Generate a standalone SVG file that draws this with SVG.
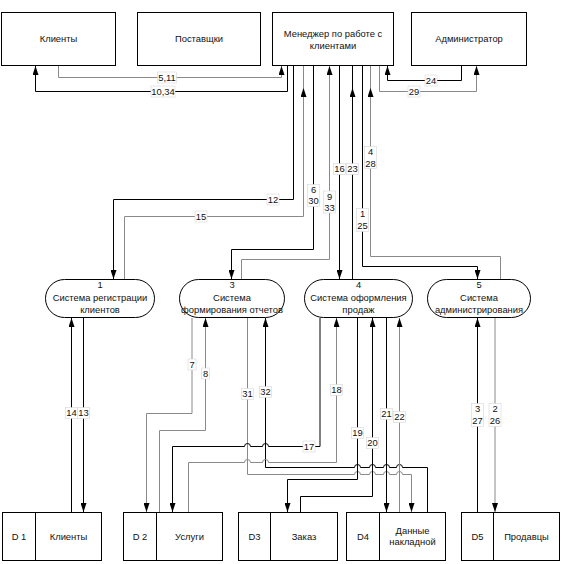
<svg xmlns="http://www.w3.org/2000/svg" width="562" height="564" viewBox="0 0 562 564">
<style>
.box{fill:#fff;stroke:#000;stroke-width:1}
.k{fill:none;stroke:#000;stroke-width:1}
.g{fill:none;stroke:#8a8a8a;stroke-width:1}
.ar{marker-end:url(#a)}
text{font-family:"Liberation Sans",Arial,sans-serif;font-size:9.4px;fill:#111;text-anchor:middle}
.lb{fill:#fff;stroke:#d6d6d6;stroke-width:0.6}
</style>
<defs>
<marker id="a" markerUnits="userSpaceOnUse" markerWidth="9" markerHeight="6" viewBox="0 0 9 6" refX="9" refY="3" orient="auto">
<path d="M0,0 L9,3 L0,6 z" fill="#000"/>
</marker>
</defs>
<rect width="562" height="564" fill="#fff"/>

<g id="connectors">
<path class="g ar" d="M58.5,65.5 V77.5 H281.5 V66"/>
<path class="k ar" d="M287.5,65.5 V91.5 H35.5 V66"/>
<path class="k ar" d="M461.5,65.5 V80.5 H387.5 V66"/>
<path class="g ar" d="M379.5,65.5 V91.5 H476.5 V66"/>
<path class="k ar" d="M293.5,65.5 V199.5 H113.5 V279"/>
<path class="g ar" d="M124.5,279 V216.5 H303.5 V88"/>
<path class="g" d="M303.5,88 V65.5"/>
<path class="k ar" d="M313.5,65.5 V249.5 H231.5 V279"/>
<path class="g ar" d="M241.5,279 V259.5 H329.5 V66"/>
<path class="k ar" d="M339.5,65.5 V279"/>
<path class="k ar" d="M352.5,279 V88"/>
<path class="k" d="M352.5,88 V65.5"/>
<path class="k ar" d="M362.5,65.5 V266.5 H477.5 V279"/>
<path class="g ar" d="M500.5,279 V256.5 H370.5 V88"/>
<path class="g" d="M370.5,88 V65.5"/>

<path class="k ar" d="M71.5,512 V318"/>
<path class="k ar" d="M83.5,318 V512"/>
<path class="g ar" d="M192,318 V413.5 H146.5 V512"/>
<path class="g ar" d="M159.5,512 V430.5 H205.5 V318"/>
<path class="g ar" d="M247.5,318 V474.5 H354.5 a3,3 0 0 1 6,0 H369.5 a3,3 0 0 1 6,0 H383.5 a3,3 0 0 1 6,0 H396.5 a3,3 0 0 1 6,0 H411.5 V512"/>
<path class="k ar" d="M427.5,512 V467.5 H402.5 a3,3 0 0 0 -6,0 H389.5 a3,3 0 0 0 -6,0 H375.5 a3,3 0 0 0 -6,0 H360.5 a3,3 0 0 0 -6,0 H265.5 V318"/>
<path class="k ar" d="M320,318 V446.5 H268.5 a3,3 0 0 0 -6,0 H250.5 a3,3 0 0 0 -6,0 H172.5 V512"/>
<path class="g ar" d="M188.5,512 V462.5 H244.5 a3,3 0 0 1 6,0 H262.5 a3,3 0 0 1 6,0 H336.5 V318"/>
<path class="k ar" d="M357.5,318 V479.5 H287.5 V512"/>
<path class="k ar" d="M300.5,512 V496.5 H372.5 V318"/>
<path class="k ar" d="M386.5,318 V512"/>
<path class="g ar" d="M399.5,512 V318"/>
<path class="k ar" d="M477.5,512 V318"/>
<path class="g ar" d="M495,318 V512"/>

<rect class="lb" x="157.5" y="72" width="19" height="11"/><text x="167" y="80.9">5,11</text>
<rect class="lb" x="151" y="86" width="24" height="11"/><text x="163" y="94.9">10,34</text>
<rect class="lb" x="425" y="75" width="12" height="11"/><text x="431" y="83.9">24</text>
<rect class="lb" x="408" y="86" width="12" height="11"/><text x="414" y="94.9">29</text>
<rect class="lb" x="267" y="194" width="12" height="11"/><text x="273" y="202.9">12</text>
<rect class="lb" x="195" y="211" width="12" height="11"/><text x="201" y="219.9">15</text>
<rect class="lb" x="307.5" y="184.5" width="12" height="22"/><text x="313.5" y="193.4">6</text><text x="313.5" y="204.4">30</text>
<rect class="lb" x="323.5" y="191" width="12" height="22"/><text x="329.5" y="200">9</text><text x="329.5" y="211">33</text>
<rect class="lb" x="333.5" y="163.5" width="12" height="11"/><text x="339.5" y="172.4">16</text>
<rect class="lb" x="346.5" y="163.5" width="12" height="11"/><text x="352.5" y="172.4">23</text>
<rect class="lb" x="356.5" y="208.5" width="12" height="23"/><text x="362.5" y="217.4">1</text><text x="362.5" y="229.4">25</text>
<rect class="lb" x="364.5" y="146.5" width="12" height="22"/><text x="370.5" y="155.4">4</text><text x="370.5" y="166.9">28</text>

<rect class="lb" x="65.5" y="407.5" width="12" height="11"/><text x="71.5" y="416.4">14</text>
<rect class="lb" x="77.5" y="407.5" width="12" height="11"/><text x="83.5" y="416.4">13</text>
<rect class="lb" x="188" y="359" width="8" height="11"/><text x="192" y="367.9">7</text>
<rect class="lb" x="201.5" y="368" width="8" height="11"/><text x="205.5" y="376.9">8</text>
<rect class="lb" x="241.5" y="388.5" width="12" height="11"/><text x="247.5" y="397.4">31</text>
<rect class="lb" x="259.5" y="386.5" width="12" height="11"/><text x="265.5" y="395.4">32</text>
<rect class="lb" x="330.5" y="384.5" width="12" height="11"/><text x="336.5" y="393.4">18</text>
<rect class="lb" x="303" y="441" width="12" height="11"/><text x="309" y="449.9">17</text>
<rect class="lb" x="351.5" y="427.5" width="12" height="11"/><text x="357.5" y="436.4">19</text>
<rect class="lb" x="366.5" y="437.5" width="12" height="11"/><text x="372.5" y="446.4">20</text>
<rect class="lb" x="380.5" y="408.5" width="12" height="11"/><text x="386.5" y="417.4">21</text>
<rect class="lb" x="393.5" y="411.5" width="12" height="11"/><text x="399.5" y="420.4">22</text>
<rect class="lb" x="471.5" y="403.5" width="12" height="23"/><text x="477.5" y="412.4">3</text><text x="477.5" y="424.4">27</text>
<rect class="lb" x="489" y="403.5" width="12" height="23"/><text x="495" y="412.4">2</text><text x="495" y="424.4">26</text>
</g>

<g id="ext-clients"><rect class="box" x="1.5" y="12.5" width="114" height="53"/><text x="58.5" y="42.4">Клиенты</text></g>
<g id="ext-suppliers"><rect class="box" x="137.5" y="12.5" width="123" height="53"/><text x="199" y="42.4">Поставщки</text></g>
<g id="ext-manager"><rect class="box" x="272.5" y="12.5" width="121" height="53"/><text x="333" y="36.9">Менеджер по работе с</text><text x="333" y="48.9">клиентами</text></g>
<g id="ext-admin"><rect class="box" x="411.5" y="12.5" width="115" height="53"/><text x="469" y="42.4">Администратор</text></g>

<g id="p1"><rect class="box" x="45.5" y="279.5" width="109" height="38" rx="19" ry="19"/><text x="100" y="288.4">1</text><text x="100" y="301.4">Система регистрации</text><text x="100" y="313.4">клиентов</text></g>
<g id="p3"><rect class="box" x="179.5" y="279.5" width="105" height="38" rx="19" ry="19"/><text x="232" y="288.4">3</text><text x="232" y="301.4">Система</text><text x="232" y="313.4">формирования отчетов</text></g>
<g id="p4"><rect class="box" x="304.5" y="279.5" width="108" height="38" rx="19" ry="19"/><text x="358.5" y="288.4">4</text><text x="358.5" y="301.4">Система оформления</text><text x="358.5" y="313.4">продаж</text></g>
<g id="p5"><rect class="box" x="427.5" y="279.5" width="103" height="38" rx="19" ry="19"/><text x="479" y="288.4">5</text><text x="479" y="301.4">Система</text><text x="479" y="313.4">администрирования</text></g>

<g id="d1"><rect class="box" x="2.5" y="512.5" width="99" height="48"/><line class="k" x1="35.5" y1="512.5" x2="35.5" y2="560.5"/><text x="19" y="539.9">D 1</text><text x="68.5" y="539.9">Клиенты</text></g>
<g id="d2"><rect class="box" x="123.5" y="512.5" width="99" height="48"/><line class="k" x1="156.5" y1="512.5" x2="156.5" y2="560.5"/><text x="140" y="539.9">D 2</text><text x="189.5" y="539.9">Услуги</text></g>
<g id="d3"><rect class="box" x="238.5" y="512.5" width="99" height="48"/><line class="k" x1="270.5" y1="512.5" x2="270.5" y2="560.5"/><text x="254.5" y="539.9">D3</text><text x="304" y="539.9">Заказ</text></g>
<g id="d4"><rect class="box" x="346.5" y="512.5" width="99" height="48"/><line class="k" x1="379.5" y1="512.5" x2="379.5" y2="560.5"/><text x="363" y="539.9">D4</text><text x="412.5" y="534.4">Данные</text><text x="412.5" y="545.4">накладной</text></g>
<g id="d5"><rect class="box" x="461.5" y="512.5" width="98" height="48"/><line class="k" x1="493.5" y1="512.5" x2="493.5" y2="560.5"/><text x="477.5" y="539.9">D5</text><text x="526.5" y="539.9">Продавцы</text></g>
</svg>
